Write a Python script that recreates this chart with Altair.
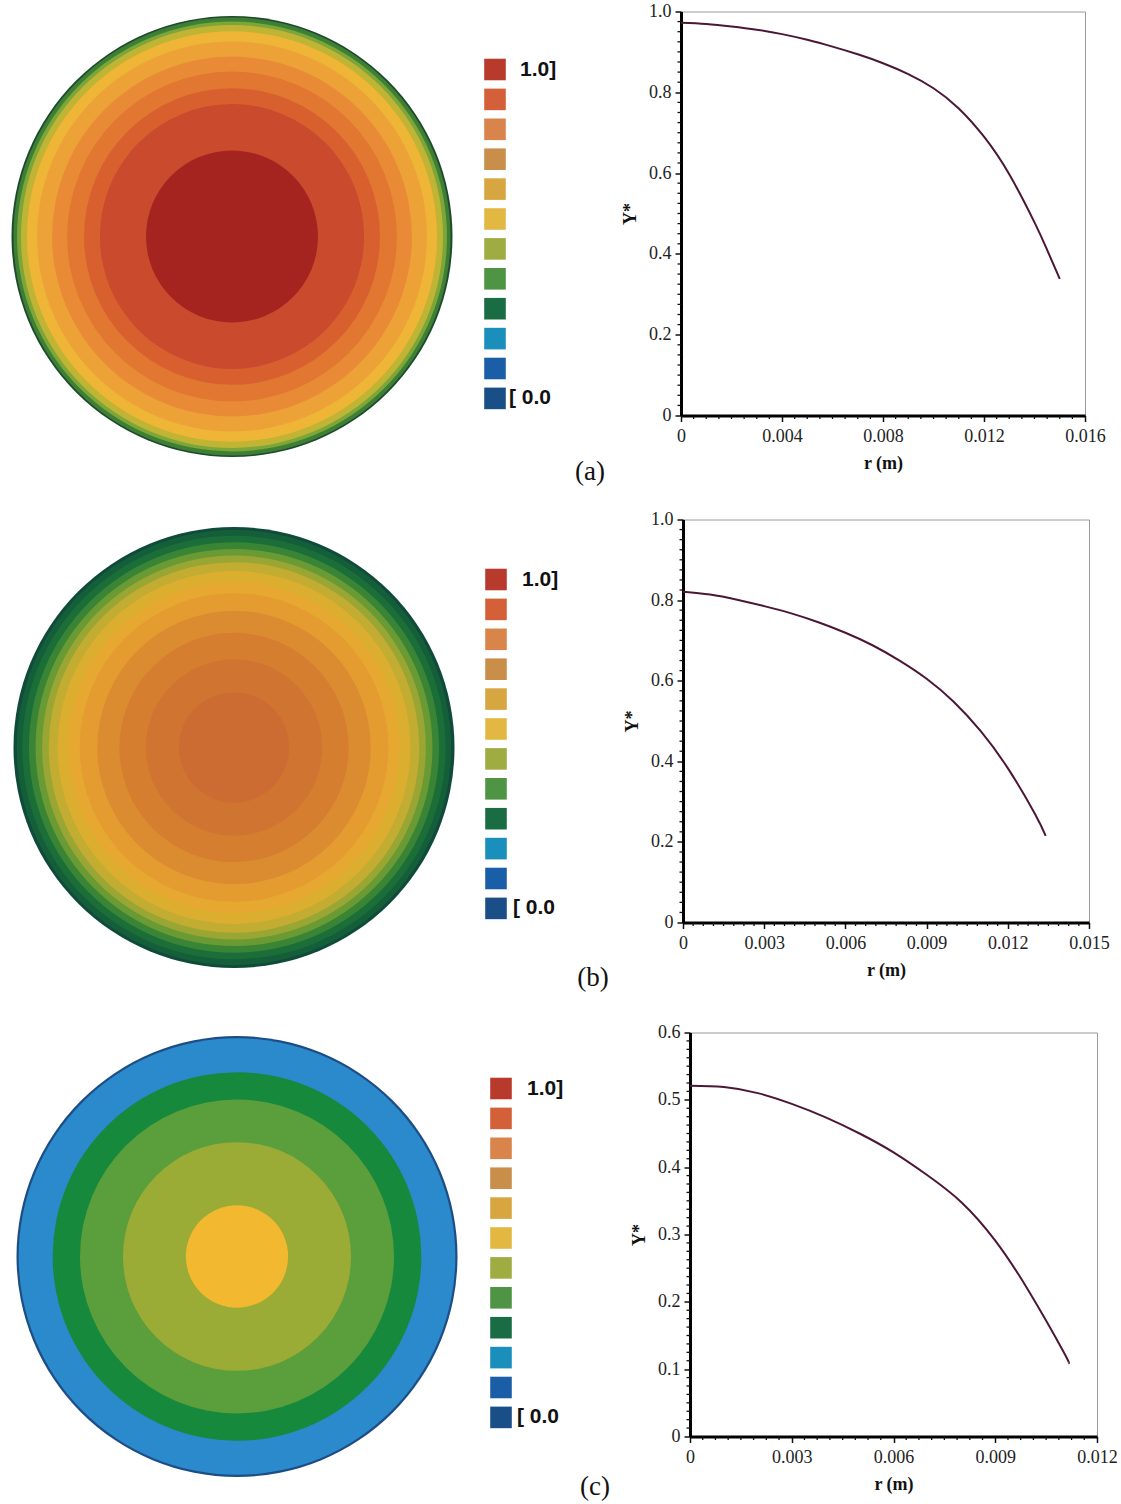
import altair as alt
import pandas as pd

# ---------------- data ----------------
# radial profiles Y*(r)
r_a = [0, 0.001, 0.002, 0.003, 0.004, 0.005, 0.006, 0.007, 0.008, 0.009, 0.010, 0.011, 0.012, 0.013, 0.014, 0.0145, 0.0150]
y_a = [0.972, 0.969, 0.963, 0.955, 0.944, 0.930, 0.913, 0.894, 0.872, 0.845, 0.810, 0.760, 0.690, 0.597, 0.478, 0.410, 0.338]

r_b = [0, 0.001, 0.002, 0.003, 0.004, 0.005, 0.006, 0.007, 0.008, 0.009, 0.010, 0.011, 0.012, 0.013, 0.0134]
y_b = [0.821, 0.814, 0.801, 0.785, 0.767, 0.745, 0.719, 0.688, 0.650, 0.605, 0.548, 0.475, 0.383, 0.270, 0.215]

r_c = [0, 0.001, 0.002, 0.003, 0.004, 0.005, 0.006, 0.007, 0.008, 0.009, 0.010, 0.011, 0.01116]
y_c = [0.521, 0.519, 0.510, 0.494, 0.474, 0.450, 0.422, 0.388, 0.348, 0.291, 0.215, 0.127, 0.109]

# contour bands of the cross sections (outer radius as fraction of R, colour)
ring_r_a = [1.0, 0.991, 0.975, 0.957, 0.930, 0.884, 0.816, 0.748, 0.671, 0.599, 0.390]
ring_c_a = ["#1f4a2e", "#3d7f33", "#7ca53a", "#bfb434", "#eeb536", "#eda238",
            "#e98b36", "#e27732", "#d8602f", "#c94a2c", "#a52420"]

ring_r_b = [1.0, 0.985, 0.96, 0.93, 0.90, 0.87, 0.84, 0.80, 0.75, 0.70, 0.62, 0.52, 0.40, 0.25]
ring_c_b = ["#0f4a3a", "#145e3a", "#1c6e38", "#3a8436", "#6a9a34", "#9aa634", "#c2ac32",
            "#dcae30", "#e6a830", "#e49c30", "#dc8c30", "#d67e30", "#d07432", "#cc6c32"]

ring_r_c = [1.0, 0.99, 0.836, 0.712, 0.517, 0.232]
ring_c_c = ["#1d4d85", "#2b8acb", "#16893c", "#5b9e3c", "#9aab36", "#f2b830"]

legend_colors = ["#b83a2c", "#d4603a", "#d8844a", "#c98e4a", "#d8a640", "#e2b842",
                 "#9eac42", "#4f9444", "#1a6c44", "#1a8fbc", "#1b5ea8", "#1a4e86"]
legend_labels = ["1.0]", "[ 0.0"]
panel_tags = ["(a)", "(b)", "(c)"]

x_title = "r (m)"
y_title = "Y*"

SERIF = "Liberation Serif"
SANS = "Liberation Sans"
LABEL_SIZE = 18
NO_FRAME = alt.ViewBackground(strokeOpacity=0)


def disk_panel(radii, colors, R, cx, cy, w, h):
    # filled discs, largest first; symbol size is the bounding-square area (2r)^2
    df = pd.DataFrame({"rr": radii, "col": colors})
    return alt.Chart(df).mark_circle(opacity=1, strokeWidth=0).encode(
        x=alt.value(cx),
        y=alt.value(cy),
        size=alt.Size("rr:Q", scale=alt.Scale(type="pow", exponent=2, domain=[0, 1],
                                               range=[0, (2 * R) ** 2]), legend=None),
        color=alt.Color("col:N", scale=None),
        order=alt.Order("rr:Q", sort="descending"),
    ).properties(width=w, height=h, view=NO_FRAME)


def legend_panel(w, h, sx, c0, pitch, top_x, bot_x, tag, tag_x, tag_y):
    n = len(legend_colors)
    df = pd.DataFrame({"i": list(range(n)), "col": legend_colors})
    yscale = alt.Scale(domain=[0, n - 1], range=[c0, c0 + (n - 1) * pitch])
    sq = alt.Chart(df).mark_square(size=466, opacity=1).encode(
        x=alt.value(sx),
        y=alt.Y("i:Q", scale=yscale, axis=None),
        color=alt.Color("col:N", scale=None),
    )
    top = alt.Chart(pd.DataFrame({"t": [legend_labels[0]]})).mark_text(
        font=SANS, fontSize=21, fontWeight="bold", align="left", baseline="middle", color="#111"
    ).encode(x=alt.value(top_x), y=alt.value(c0), text="t:N")
    bot = alt.Chart(pd.DataFrame({"t": [legend_labels[1]]})).mark_text(
        font=SANS, fontSize=21, fontWeight="bold", align="left", baseline="middle", color="#111"
    ).encode(x=alt.value(bot_x), y=alt.value(c0 + (n - 1) * pitch), text="t:N")
    tg = alt.Chart(pd.DataFrame({"t": [tag]})).mark_text(
        font=SERIF, fontSize=27, align="center", baseline="middle", color="#111"
    ).encode(x=alt.value(tag_x), y=alt.value(tag_y), text="t:N")
    return alt.layer(sq, top, bot, tg).properties(width=w, height=h, view=NO_FRAME)


def line_panel(r, y, xmax, xstep, ymax, ystep, w, h):
    df = pd.DataFrame({"r": r, "y": y})
    nx = int(round(xmax / xstep))
    ny = int(round(ymax / ystep))
    xmajor = [round(i * xstep, 6) for i in range(nx + 1)]
    ymajor = [round(i * ystep, 6) for i in range(ny + 1)]
    xminor = [round(i * xstep / 8, 7) for i in range(nx * 8 + 1) if i % 8]
    yminor = [round(i * ystep / 8, 7) for i in range(ny * 8 + 1) if i % 8]
    common = dict(grid=False, domainColor="#000", domainWidth=3, tickColor="#111", tickWidth=1.5,
                  tickSize=6, labelFont=SERIF, labelFontSize=LABEL_SIZE, labelColor="#222",
                  labelOverlap=False, labelFlush=False, titleFont=SERIF, titleFontSize=18,
                  titleFontWeight="bold", titleColor="#111")
    xaxis = alt.Axis(values=xmajor, title=x_title,
                     labelExpr="datum.value == 0 ? '0' : format(datum.value, '.3f')",
                     labelPadding=6, titlePadding=9, **common)
    yaxis = alt.Axis(values=ymajor, title=y_title,
                     labelExpr="datum.value == 0 ? '0' : format(datum.value, '.1f')",
                     labelPadding=4, titlePadding=9, **common)
    sx = alt.Scale(domain=[0, xmax], nice=False, zero=True)
    sy = alt.Scale(domain=[0, ymax], nice=False, zero=True)
    line = alt.Chart(df).mark_line(color="#4b1736", strokeWidth=2, interpolate="natural").encode(
        x=alt.X("r:Q", scale=sx, axis=xaxis),
        y=alt.Y("y:Q", scale=sy, axis=yaxis),
    )
    xt = alt.Chart(pd.DataFrame({"r": xminor})).mark_rule(color="#111", strokeWidth=1.3).encode(
        x=alt.X("r:Q", scale=sx, axis=xaxis),
        y=alt.value(h), y2=alt.value(h + 3.5),
    )
    yt = alt.Chart(pd.DataFrame({"y": yminor})).mark_rule(color="#111", strokeWidth=1.3).encode(
        y=alt.Y("y:Q", scale=sy, axis=yaxis),
        x=alt.value(0), x2=alt.value(-3.5),
    )
    return alt.layer(line, xt, yt).properties(width=w, height=h)


def row(cells):
    return alt.hconcat(*cells, spacing=0, bounds="flush")


row_a = row([
    disk_panel(ring_r_a, ring_c_a, 220.5, 232, 225, 475, 508),
    legend_panel(206, 508, 20, 58, 29.9, 45, 34, panel_tags[0], 115, 460),
    line_panel(r_a, y_a, 0.016, 0.004, 1.0, 0.2, 404, 404),
])
row_b = row([
    disk_panel(ring_r_b, ring_c_b, 221, 234, 228, 475, 513),
    legend_panel(208, 513, 21, 60, 29.9, 47, 38, panel_tags[1], 118, 458),
    line_panel(r_b, y_b, 0.015, 0.003, 1.0, 0.2, 406, 403),
])
row_c = row([
    disk_panel(ring_r_c, ring_c_c, 220, 237, 224, 475, 471),
    legend_panel(215, 471, 26, 56, 29.9, 52, 42, panel_tags[2], 120, 454),
    line_panel(r_c, y_c, 0.012, 0.003, 0.6, 0.1, 407, 404),
])

over = 10.5  # top tick label sticks out above each row
chart = alt.vconcat(row_a, row_b, row_c, spacing=-over).properties(
    padding={"left": 0, "top": 12 - over, "right": 0, "bottom": 0},
    background="white",
).configure_view(stroke="#9a9a9a", strokeWidth=1).configure_axis(labelFont=SERIF)

chart.save("out.html", embed_options={"renderer": "svg", "actions": False})
